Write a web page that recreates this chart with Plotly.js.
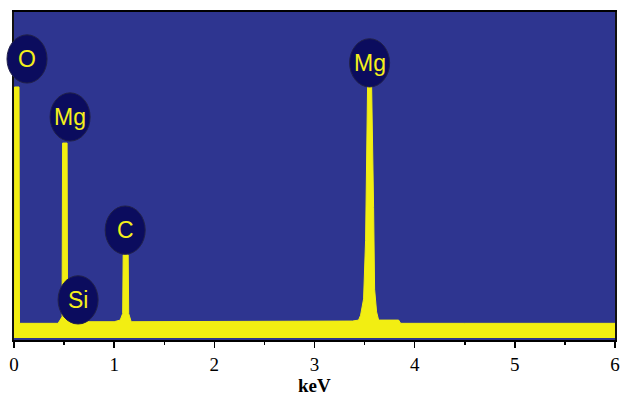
<!DOCTYPE html>
<html>
<head>
<meta charset="utf-8">
<script src="https://cdn.plot.ly/plotly-3.0.1.min.js"></script>
<style>html,body{margin:0;padding:0;background:#fff;}#chart{width:620px;height:397px;}</style>
</head>
<body>
<div id="chart"></div>
<script>
// Spectrum (energy in keV, intensity in arbitrary units 0-100)
const energy = [0.0, 0.005, 0.05, 0.055, 0.2, 0.44, 0.46, 0.48, 0.485, 0.53, 0.535, 0.56, 0.6, 0.62, 0.66, 0.7, 1.0, 1.06, 1.085, 1.09, 1.14, 1.145, 1.17, 1.5, 2.0, 2.5, 3.0, 3.38, 3.44, 3.46, 3.49, 3.51, 3.53, 3.57, 3.59, 3.6, 3.62, 3.64, 3.84, 3.86, 4.5, 5.0, 5.5, 6.0];
const counts = [4.5, 77.0, 77.0, 4.5, 4.5, 4.5, 5.5, 6.5, 59.8, 59.8, 7.0, 6.0, 6.0, 8.0, 6.0, 5.0, 5.0, 5.5, 7.5, 25.5, 25.5, 7.5, 5.0, 5.0, 5.0, 5.0, 5.0, 5.2, 5.5, 7.0, 12.0, 30.0, 77.6, 77.6, 40.0, 15.0, 8.0, 5.5, 5.5, 4.5, 4.5, 4.5, 4.5, 4.5];
// Peak labels: element, label centre energy (keV), label centre height
const peakNames = ["O", "Mg", "Si", "C", "Mg"];
const peakEnergy = [0.13, 0.56, 0.64, 1.11, 3.55];
const peakLabelY = [85.6, 67.8, 11.7, 33.1, 84.4];
const tickVals = [0, 1, 2, 3, 4, 5, 6];
const tickText = ["0", "1", "2", "3", "4", "5", "6"];

const xRange = [0, 6], yRange = [-0.61, 100];
const px = v => (v - xRange[0]) / (xRange[1] - xRange[0]);
const py = v => (v - yRange[0]) / (yRange[1] - yRange[0]);

const yellow = "#f2ee12";
const spectrum = {
  x: energy, y: counts, type: "scatter", mode: "lines",
  line: {color: yellow, width: 1, shape: "linear"},
  fill: "tozeroy", fillcolor: yellow, hoverinfo: "skip"
};

const rx = 0.2, ry = 7.4;
const shapes = peakNames.map((n, i) => ({
  type: "circle", xref: "paper", yref: "paper",
  x0: px(peakEnergy[i] - rx), x1: px(peakEnergy[i] + rx),
  y0: py(peakLabelY[i] - ry), y1: py(peakLabelY[i] + ry),
  fillcolor: "#0b0c5e", line: {color: "#22224a", width: 1}, layer: "above"
}));
const annotations = peakNames.map((n, i) => ({
  x: peakEnergy[i], y: peakLabelY[i], xref: "x", yref: "y",
  text: n, showarrow: false,
  font: {family: "Liberation Sans, Arial, sans-serif", size: 23, color: "#f5ef1a"}
}));
annotations.push({
  x: 0.5, y: 0, xref: "paper", yref: "paper", yanchor: "top", yshift: -33,
  text: "<b>keV</b>", showarrow: false,
  font: {family: "Liberation Serif, Times New Roman, serif", size: 19, color: "#000"}
});

const layout = {
  width: 620, height: 397,
  margin: {l: 14, r: 5, t: 12, b: 57},
  paper_bgcolor: "#ffffff", plot_bgcolor: "#2e3590",
  showlegend: false,
  xaxis: {
    range: xRange, tickvals: tickVals, ticktext: tickText,
    ticks: "outside", ticklen: 6, tickwidth: 1.5, tickcolor: "#000",
    ticklabelstandoff: 0,
    minor: {dtick: 0.5, ticks: "outside", ticklen: 3, tickcolor: "#000"},
    showline: true, linecolor: "#000", linewidth: 2, mirror: true,
    showgrid: false, zeroline: false,
    tickfont: {family: "Liberation Serif, Times New Roman, serif", size: 19, color: "#000"}
  },
  yaxis: {
    range: yRange, showticklabels: false, ticks: "",
    showline: true, linecolor: "#111", linewidth: 2, mirror: true,
    showgrid: false, zeroline: false
  },
  shapes: shapes,
  annotations: annotations
};
Plotly.newPlot("chart", [spectrum], layout, {displayModeBar: false, staticPlot: true});
</script>
</body>
</html>
